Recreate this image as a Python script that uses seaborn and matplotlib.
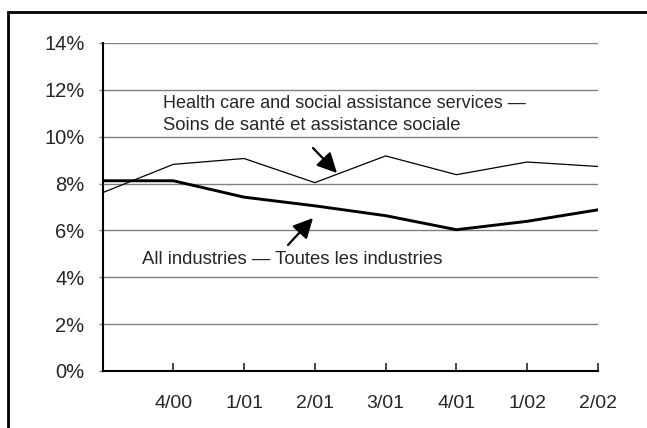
import matplotlib
matplotlib.use("Agg")
import matplotlib.pyplot as plt
import numpy as np
import pandas as pd
import seaborn as sns
from matplotlib.patches import Rectangle

# quarters (first one has no label on the axis)
quarters = ["3/00", "4/00", "1/01", "2/01", "3/01", "4/01", "1/02", "2/02"]
tick_labels = ["", "4/00", "1/01", "2/01", "3/01", "4/01", "1/02", "2/02"]
health = [7.61, 8.82, 9.07, 8.04, 9.18, 8.38, 8.92, 8.73]
all_ind = [8.12, 8.12, 7.42, 7.05, 6.63, 6.03, 6.39, 6.88]

df = pd.DataFrame({"pos": np.arange(len(quarters)), "quarter": quarters,
                   "health": health, "all": all_ind})

sns.set_style("white")
plt.rcParams['font.family'] = ['Liberation Sans', 'DejaVu Sans']

fig = plt.figure(figsize=(6.47, 4.28), dpi=100)
ax = fig.add_axes([102.5/647, 57/428, 495.5/647, 328/428])

# grid lines
for v in range(2, 15, 2):
    ax.axhline(v, color='#808080', lw=1.0, zorder=1)

sns.lineplot(data=df, x="pos", y="health", color='black', lw=0.9, ax=ax, zorder=3)
sns.lineplot(data=df, x="pos", y="all", color='black', lw=2.1, ax=ax, zorder=3)

ax.set_xlim(0, 7)
ax.set_ylim(0, 14)
ax.set_yticks(range(0, 15, 2))
ax.set_yticklabels([f"{v}%" for v in range(0, 15, 2)], fontsize=14.5)
ax.set_xticks(range(1, 8))
ax.set_xticklabels(tick_labels[1:], fontsize=14)
ax.tick_params(axis='x', direction='in', length=6, width=1.2, pad=17, bottom=True)
ax.tick_params(axis='y', direction='out', length=3, width=1, pad=10, left=True, color='#808080')
ax.set_xlabel("")
ax.set_ylabel("")
for s in ['top', 'right']:
    ax.spines[s].set_visible(False)
for s in ['left', 'bottom']:
    ax.spines[s].set_color('black')
    ax.spines[s].set_linewidth(1.5)

# annotations
def px(x, y):
    return (x / 647, 1 - y / 428)

fig.text(*px(163, 103), "Health care and social assistance services \u2014",
         fontsize=13.0, va='center', ha='left')
fig.text(*px(163, 125), "Soins de sant\u00e9 et assistance sociale",
         fontsize=13.3, va='center', ha='left')
fig.text(*px(142, 259), "All industries \u2014 Toutes les industries",
         fontsize=13.3, va='center', ha='left')

arrow = dict(arrowstyle='-|>,head_length=0.6,head_width=0.3', color='black',
             lw=1.6, mutation_scale=20, shrinkA=0, shrinkB=0)
ax.annotate("", xy=px(337, 173), xycoords='figure fraction',
            xytext=px(313, 148), textcoords='figure fraction', arrowprops=arrow)
ax.annotate("", xy=px(313, 218), xycoords='figure fraction',
            xytext=px(288, 245), textcoords='figure fraction', arrowprops=arrow)

# frame around the figure
fig.patches.append(Rectangle((8/647, -0.05), 1.0, 1 - 12/428 + 0.05,
                             transform=fig.transFigure, fill=False,
                             edgecolor='black', lw=2.0))

fig.savefig("out.png", dpi=100)
